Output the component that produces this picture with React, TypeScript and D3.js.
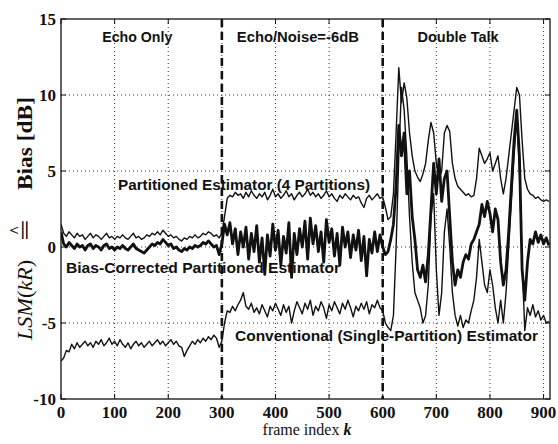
import React from 'react';
import * as d3 from 'd3';

// frame index k, one sample every 5 frames
const frames = d3.range(0, 911, 5);

const xTicks = [0, 100, 200, 300, 400, 500, 600, 700, 800, 900];
const yTicks = [-10, -5, 0, 5, 10, 15];
const phaseBounds = [300, 600];
const phaseLabels = ['Echo Only', 'Echo/Noise=-6dB', 'Double Talk'];
const phaseStarts = [77, 328, 665];

// Partitioned Estimator (4 Partitions) - thin upper line
const partitioned = [
  1.5, 0.9, 0.7, 1.0, 0.8, 0.6, 0.9, 0.7, 0.8, 0.5,
  0.7, 0.9, 0.6, 0.8, 0.7, 0.5, 0.7, 0.9, 0.6, 0.7,
  0.5, 0.7, 0.6, 0.8, 0.6, 0.5, 0.7, 0.9, 0.6, 0.7,
  0.5, 0.6, 0.8, 0.7, 0.9, 0.8, 1.0, 0.8, 1.1, 0.9,
  0.7, 0.8, 0.6, 0.7, 0.5, 0.4, 0.6, 0.5, 0.7, 0.6,
  0.8, 0.6, 0.7, 0.9, 0.8, 1.0, 0.9, 0.7, 0.8, 0.6,
  0.9, 2.0, 3.2, 3.4, 3.3, 3.6, 3.4, 3.5, 3.2, 3.6,
  3.3, 3.7, 3.4, 3.2, 3.5, 3.3, 3.6, 3.1, 3.4, 3.8,
  3.3, 3.5, 3.2, 3.4, 3.7, 3.3, 3.5, 3.1, 3.4, 3.6,
  3.3, 3.5, 3.8, 3.4, 3.6, 3.3, 3.5, 3.2, 3.4, 3.7,
  3.3, 3.5, 3.2, 3.0, 3.4, 3.2, 3.5, 3.3, 3.1, 3.4,
  3.2, 3.3, 2.9, 2.6, 3.2, 3.4, 3.1, 3.3, 3.5, 3.2,
  3.3, 2.6, 1.8, 2.0, 3.5, 7.5, 11.8, 9.5, 10.8, 9.8,
  7.5, 6.0, 5.0, 4.6, 4.3, 4.8, 5.5, 7.0, 8.2, 7.5,
  5.5, 4.5, 5.0, 7.5, 8.0, 7.6, 5.5, 4.5, 4.0, 3.8,
  3.6, 3.4, 3.5, 3.3, 3.4, 4.5, 6.5, 6.0, 5.5, 5.8,
  6.2, 5.0, 5.5, 6.0, 4.5, 3.5, 4.5, 6.0, 7.5, 9.0,
  10.5, 10.0, 7.0, 4.5, 3.8, 3.5, 3.4, 3.2, 3.3, 3.1,
  3.0, 3.1, 3.0
];

// Bias-Corrected Partitioned Estimator - thick middle line
const biasCorrected = [
  1.0, 0.2, 0.0, 0.3, 0.1, -0.1, 0.2, 0.0, 0.1, -0.2,
  0.1, 0.2, -0.1, 0.1, 0.0, -0.2, 0.1, 0.2, -0.1, 0.0,
  -0.2, 0.0, -0.1, 0.1, -0.1, -0.2, 0.0, 0.2, -0.1, -0.2,
  -0.3, -0.4, -0.2, 0.0, 0.2, 0.1, 0.3, 0.2, 0.5, 0.3,
  0.1, 0.2, -0.1, 0.0, -0.2, -0.3, -0.1, -0.2, 0.0, -0.1,
  0.1, 0.0, 0.1, 0.3, 0.2, 0.4, 0.2, 0.0, 0.1, -0.5,
  0.2, 1.5, 0.8, 1.6, 0.2, 1.2, -0.5, 1.0, 0.0, 1.3,
  -0.8, 0.9, -0.3, 1.4, -1.0, 0.6, -1.8, 0.8, -0.6, 1.5,
  -0.2, 1.1, -1.2, 0.7, -0.4, 1.6, -2.0, 0.9, -0.5, 1.2,
  0.0, 1.7, -0.8, 1.9, 0.2, 1.4, -0.3, 1.0, -1.0, 1.8,
  0.3, 1.2, -0.6, 0.9, -1.2, 1.3, 0.0, 1.0, -0.7, 0.8,
  -0.2, 1.1, -0.9, 0.7, -1.9, 0.5, -0.4, 1.0, -0.3, 0.8,
  0.0, -0.5, -0.3, 0.5, 1.5, 4.0, 8.0, 6.0, 7.5, 3.5,
  5.0, 2.0, 0.5, -1.5, -2.0, -1.2, -2.3, -0.5, 2.5, 5.5,
  3.5, 5.8, 3.0, 4.5, 5.0, 2.0, -1.0, -2.5, -1.5, -2.0,
  -1.0, -0.5, -0.8, 0.2, 0.5, 1.0, 1.5, 2.8, 2.0, 3.0,
  2.2, 1.0, 2.5, 1.8, -1.0, -2.5, -1.5, 1.0, 4.0, 7.0,
  9.0, 6.0, -1.5, -3.5, -1.0, 0.5, 0.2, 1.0, 0.3, 0.8,
  0.2, 0.6, 0.1
];

// Conventional (Single-Partition) Estimator - thin lower line
const conventional = [
  -7.5, -7.3, -6.8, -6.9, -6.4, -6.7, -6.3, -6.6, -6.4, -6.2,
  -6.5, -6.3, -6.6, -6.2, -6.4, -6.1, -6.5, -6.3, -6.0, -6.4,
  -6.2, -6.5, -6.1, -6.4, -6.6, -6.3, -6.7, -6.4, -6.2, -6.5,
  -6.3, -6.6, -6.4, -6.2, -6.5, -6.3, -6.1, -6.4, -6.2, -6.5,
  -6.3, -6.1, -6.4, -6.2, -6.5, -6.6, -7.2, -6.8, -6.5, -6.2,
  -6.4, -6.1, -6.3, -6.0, -6.2, -5.9, -6.1, -5.8, -6.0, -6.6,
  -6.2, -5.0, -4.2, -4.3, -3.9, -4.2, -3.8, -3.5, -3.0, -3.9,
  -4.1, -3.7, -4.3, -4.0, -4.4, -3.8, -4.2, -4.6, -3.9, -4.2,
  -3.7, -4.1, -4.5, -3.8, -4.3, -3.9, -5.0, -4.2, -3.6, -4.0,
  -4.4, -3.7, -4.1, -3.5, -4.5, -3.9, -4.2, -3.6, -4.0, -4.7,
  -3.8, -4.2, -3.6, -4.0, -4.4, -3.7, -4.1, -3.5, -4.0, -4.6,
  -3.9, -4.2, -3.7, -4.1, -3.6, -4.4, -3.8, -4.0, -3.5, -4.0,
  -4.2, -5.0, -5.3, -5.5, -4.5, 0.0, 6.0, 10.5, 9.0, 6.0,
  2.0, -1.0, -3.0, -3.5, -4.0, -5.0, -4.5, -2.5, 2.0, 3.5,
  -1.5, -4.5, -3.0, 1.0, 2.5, 0.0, -3.0, -4.5, -5.2, -4.5,
  -5.3, -4.8, -5.0, -4.2, -3.5, -2.0, 0.5, -1.0, -2.5, -3.0,
  -1.5, -2.5, -4.0, -5.0, -3.5, -5.0, -3.0, 0.0, 3.0, 6.0,
  8.5, 5.0, -1.0, -5.5, -4.0, -4.5, -3.8, -4.6, -4.2, -4.8,
  -4.5, -5.0, -4.9
];

const W = 558;
const H = 444;
const plot = { left: 61, right: 550, top: 19, bottom: 399 };

const serif = '"Liberation Serif", "DejaVu Serif", serif';
const sans = '"Liberation Sans", Arial, sans-serif';

export default function App() {
  const x = d3.scaleLinear().domain([0, 912]).range([plot.left, plot.right]);
  const y = d3.scaleLinear().domain([-10, 15]).range([plot.bottom, plot.top]);

  const line = d3.line<number>()
    .x((d, i) => x(frames[i]))
    .y(d => y(d));

  const phaseWidths = [70, 122, 81];

  return (
    <div style={{ position: 'fixed', left: 0, top: 0 }}>
      <svg width={W} height={H} style={{ display: 'block', background: '#fff' }}>
        <defs>
          <clipPath id="plotClip">
            <rect x={plot.left} y={plot.top} width={plot.right - plot.left} height={plot.bottom - plot.top} />
          </clipPath>
        </defs>

        {/* dotted grid */}
        <g stroke="#333" strokeWidth={1} strokeDasharray="1,3">
          {xTicks.filter(t => t > 0).map(t => (
            <line key={'gx' + t} x1={x(t)} x2={x(t)} y1={plot.top} y2={plot.bottom} />
          ))}
          {yTicks.filter(t => t > -10 && t < 15).map(t => (
            <line key={'gy' + t} x1={plot.left} x2={plot.right} y1={y(t)} y2={y(t)} />
          ))}
        </g>

        {/* phase boundaries */}
        <g stroke="#111" strokeWidth={2.6} strokeDasharray="8,5">
          {phaseBounds.map(b => (
            <line key={'b' + b} x1={x(b)} x2={x(b)} y1={plot.top} y2={plot.bottom} />
          ))}
        </g>

        {/* data */}
        <g clipPath="url(#plotClip)" fill="none" stroke="#111" strokeLinejoin="round">
          <path d={line(partitioned) || ''} strokeWidth={1.4} />
          <path d={line(conventional) || ''} strokeWidth={1.4} />
          <path d={line(biasCorrected) || ''} strokeWidth={2.8} />
        </g>

        {/* axes box */}
        <rect x={plot.left} y={plot.top} width={plot.right - plot.left} height={plot.bottom - plot.top}
          fill="none" stroke="#111" strokeWidth={1.3} />

        {/* ticks */}
        <g stroke="#111" strokeWidth={1}>
          {xTicks.map(t => (
            <g key={'tx' + t}>
              <line x1={x(t)} x2={x(t)} y1={plot.bottom} y2={plot.bottom - 5} />
              <line x1={x(t)} x2={x(t)} y1={plot.top} y2={plot.top + 5} />
            </g>
          ))}
          {yTicks.map(t => (
            <g key={'ty' + t}>
              <line x1={plot.left} x2={plot.left + 5} y1={y(t)} y2={y(t)} />
              <line x1={plot.right} x2={plot.right - 5} y1={y(t)} y2={y(t)} />
            </g>
          ))}
        </g>

        <g fontFamily={serif} fontWeight="bold" fontSize={17} fill="#111">
          {xTicks.map(t => (
            <text key={'lx' + t} x={x(t)} y={418} textAnchor="middle">{t}</text>
          ))}
          {yTicks.map(t => (
            <text key={'ly' + t} x={56} y={y(t) + 6} textAnchor="end">{t}</text>
          ))}
        </g>

        {/* axis titles */}
        <text x={307} y={435} textAnchor="middle" fontFamily={serif} fontSize={16} fill="#111">
          frame index <tspan fontStyle="italic" fontWeight="bold">k</tspan>
        </text>
        <g transform="translate(32,219) rotate(-90)" fontFamily={serif} fontSize={20} fill="#111">
          <text x={-121} y={0} textLength={80} lengthAdjust="spacingAndGlyphs">
            <tspan fontStyle="italic">LSM</tspan>(<tspan fontStyle="italic">kR</tspan>)
          </text>
          <text x={-22} y={0} fontWeight="bold" textLength={22} lengthAdjust="spacingAndGlyphs">=</text>
          <text x={-16} y={-11} fontSize={16} fontWeight="bold">^</text>
          <text x={29} y={0} fontWeight="bold" textLength={93} lengthAdjust="spacingAndGlyphs">Bias [dB]</text>
        </g>

        {/* phase labels and curve annotations */}
        <g fontFamily={sans} fontWeight="bold" fontSize={14} fill="#111">
          {phaseLabels.map((s, i) => (
            <text key={s} x={x(phaseStarts[i])} y={42} textLength={phaseWidths[i]} lengthAdjust="spacingAndGlyphs">{s}</text>
          ))}
          <text x={118} y={190} textLength={252} lengthAdjust="spacingAndGlyphs">Partitioned Estimator (4 Partitions)</text>
          <text x={66} y={273} textLength={274} lengthAdjust="spacingAndGlyphs">Bias-Corrected Partitioned Estimator</text>
          <text x={235} y={341} textLength={303} lengthAdjust="spacingAndGlyphs">Conventional (Single-Partition) Estimator</text>
        </g>
      </svg>
    </div>
  );
}
